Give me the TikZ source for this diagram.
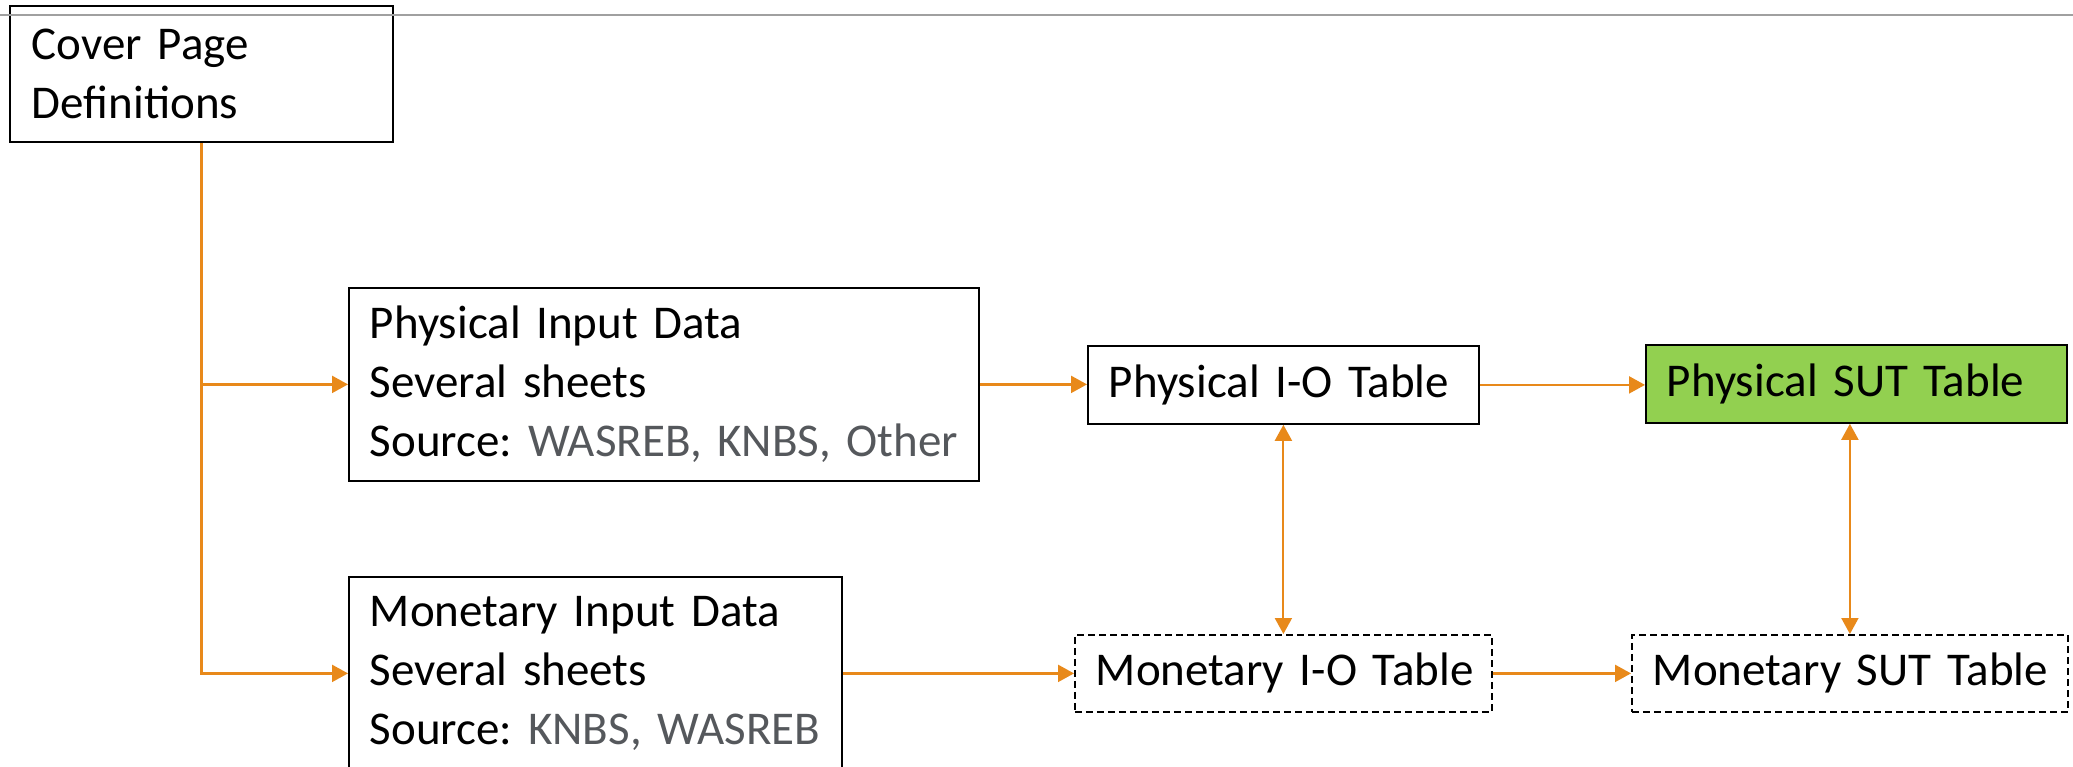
\documentclass[tikz,border=0pt]{standalone}
\usepackage{fontspec}
\setmainfont{Carlito}
\usetikzlibrary{arrows.meta}
\definecolor{arrorange}{RGB}{232,137,26}
\definecolor{boxgreen}{RGB}{146,208,80}
\definecolor{srcgray}{RGB}{85,88,92}
\definecolor{rulegray}{RGB}{160,160,160}
\hbadness=10000 \hfuzz=1000pt
\begin{document}
\frenchspacing
\begin{tikzpicture}[x=1pt,y=-1pt,
  box/.style={draw, line width=1.8pt, anchor=north west, inner xsep=21pt, inner ysep=0pt,
    align=left, font=\fontsize{47}{59}\selectfont\frenchspacing},
  dashbox/.style={box, dash pattern=on 7pt off 4pt},
  conn/.style={draw=arrorange, line width=2.2pt, -{Triangle[length=16pt,width=17pt]}},
  dconn/.style={draw=arrorange, line width=2pt, {Triangle[length=16pt,width=17pt]}-{Triangle[length=16pt,width=17pt]}}]
\useasboundingbox (0,0) rectangle (2073,767);
\clip (0,0) rectangle (2073,767);
\fill[white] (0,0) rectangle (2073,767);
% nodes
\node[box, inner xsep=22pt, text width=339pt, minimum height=136pt] (cover) at (9,5)
  {\mbox{Cover Page}\\\mbox{Definitions}};
\node[box, text width=588pt, minimum height=193pt] (physin) at (348,287)
  {\mbox{Physical Input Data}\\\mbox{Several sheets}\\\mbox{Source: \textcolor{srcgray}{WASREB, KNBS, Other}}};
\node[box, text width=349pt, minimum height=78pt] (physio) at (1087,345) {\mbox{Physical I-O Table}};
\node[box, fill=boxgreen, text width=379pt, minimum height=78pt] (physsut) at (1645,344) {\mbox{Physical SUT Table}};
\node[box, text width=451pt, minimum height=193pt] (monin) at (348,576)
  {\mbox{Monetary Input Data}\\\mbox{Several sheets}\\\mbox{Source: \textcolor{srcgray}{KNBS, WASREB}}};
\node[dashbox, text width=375pt, minimum height=77pt] (monio) at (1074,634) {\mbox{Monetary I-O Table}};
\node[dashbox, text width=394pt, minimum height=77pt] (monsut) at (1631,634) {\mbox{Monetary SUT Table}};
% top rule
\draw[rulegray, line width=2pt] (0,15) -- (2073,15);
% connectors
\draw[conn] (cover.south) |- (monin.west);
\draw[conn] (cover.south |- physin.west) -- (physin.west);
\draw[conn] (physin.east) -- (physin.east -| physio.west);
\draw[conn] (physio.east) -- (physio.east -| physsut.west);
\draw[conn] (monin.east) -- (monin.east -| monio.west);
\draw[conn] (monio.east) -- (monio.east -| monsut.west);
\draw[dconn] (physio.south) -- (physio.south |- monio.north);
\draw[dconn] (monsut.north |- physsut.south) -- (monsut.north);
\end{tikzpicture}
\end{document}
